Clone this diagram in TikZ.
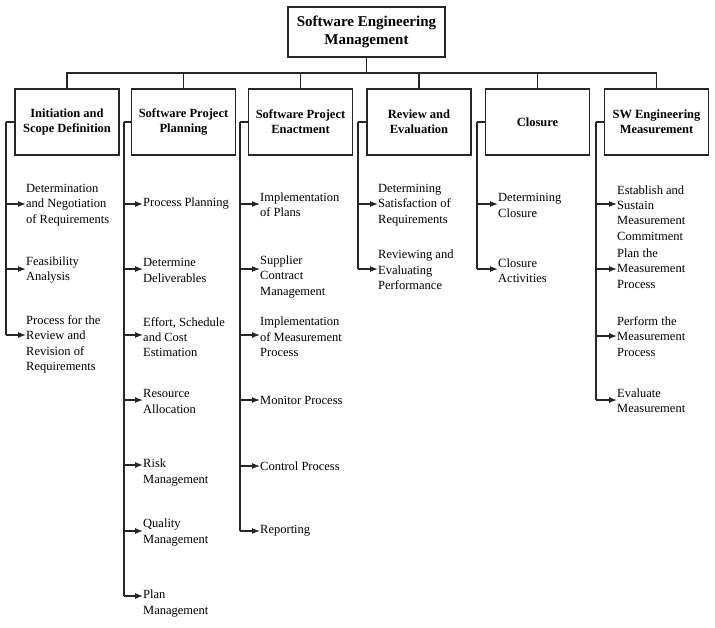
\documentclass[tikz,border=0pt]{standalone}
\usepackage{fontspec}
\setmainfont{Liberation Serif}
\usetikzlibrary{arrows.meta}
\begin{document}
\begin{tikzpicture}[x=1pt,y=-1pt,
  conn/.style={line width=1.1pt, draw=black!85},
  arr/.style={conn, -{Latex[length=8pt,width=6pt]}},
  topbox/.style={draw=black!85, line width=1.2pt, minimum width=157pt, minimum height=50pt, align=center, font=\fontsize{15}{18}\selectfont\bfseries, inner sep=0pt},
  catbox/.style={draw=black!85, line width=1.2pt, minimum width=104pt, minimum height=66pt, align=center, font=\fontsize{12.5}{15}\selectfont\bfseries, inner sep=0pt},
  item/.style={anchor=west, align=left, inner sep=0pt, font=\fontsize{12.5}{15.3}\selectfont}
]
\useasboundingbox (0,0) rectangle (715,627);

% top
\node[topbox] (top) at (366.5,32) {Software Engineering\\Management};
\coordinate (bus) at (366.5,73);

% categories
\node[catbox] (c1) at (67,122) {Initiation and\\Scope Definition};
\node[catbox] (c2) at (183.5,122) {Software Project\\Planning};
\node[catbox] (c3) at (300.5,122) {Software Project\\Enactment};
\node[catbox] (c4) at (419,122) {Review and\\Evaluation};
\node[catbox] (c5) at (537.5,122) {Closure};
\node[catbox] (c6) at (656.5,122) {SW Engineering\\Measurement};

\draw[conn] (top.south) -- (bus);
\draw[conn] (c1.north) |- (bus) -| (c6.north);
\foreach \c in {c2,c3,c4,c5} \draw[conn] (\c.north) -- (\c.north |- bus);

% spines
\coordinate (s1) at (6,122);
\coordinate (s2) at (124,122);
\coordinate (s3) at (240,122);
\coordinate (s4) at (358,122);
\coordinate (s5) at (477,122);
\coordinate (s6) at (596,122);
\foreach \i in {1,...,6} \draw[conn] (c\i.west) -- (s\i);

% column 1
\node[item] (i11) at (26,205) {Determination\\and Negotiation\\of Requirements};
\node[item] (i12) at (26,270) {Feasibility\\Analysis};
\node[item] (i13) at (26,344.5) {Process for the\\Review and\\Revision of\\Requirements};
\coordinate (a11) at (6,204);
\coordinate (a12) at (6,269);
\coordinate (a13) at (6,335);
\draw[conn] (s1) -- (a13);
\draw[arr] (a11) -- (a11 -| i11.west);
\draw[arr] (a12) -- (a12 -| i12.west);
\draw[arr] (a13) -- (a13 -| i13.west);

% column 2
\node[item] (i21) at (143,204) {Process Planning};
\node[item] (i22) at (143,270.5) {Determine\\Deliverables};
\node[item] (i23) at (143,337) {Effort, Schedule\\and Cost\\Estimation};
\node[item] (i24) at (143,401.5) {Resource\\Allocation};
\node[item] (i25) at (143,472.5) {Risk\\Management};
\node[item] (i26) at (143,532.5) {Quality\\Management};
\node[item] (i27) at (143,603.5) {Plan\\Management};
\coordinate (a21) at (124,204);
\coordinate (a22) at (124,269);
\coordinate (a23) at (124,335);
\coordinate (a24) at (124,400);
\coordinate (a25) at (124,465);
\coordinate (a26) at (124,531);
\coordinate (a27) at (124,596);
\draw[conn] (s2) -- (a27);
\foreach \k in {1,...,7} \draw[arr] (a2\k) -- (a2\k -| i2\k.west);

% column 3
\node[item] (i31) at (260,204.5) {Implementation\\of Plans};
\node[item] (i32) at (260,277) {Supplier\\Contract\\Management};
\node[item] (i33) at (260,337) {Implementation\\of Measurement\\Process};
\node[item] (i34) at (260,400) {Monitor Process};
\node[item] (i35) at (260,466) {Control Process};
\node[item] (i36) at (260,531) {Reporting};
\coordinate (a31) at (240,204);
\coordinate (a32) at (240,269);
\coordinate (a33) at (240,335);
\coordinate (a34) at (240,400);
\coordinate (a35) at (240,466);
\coordinate (a36) at (240,531);
\draw[conn] (s3) -- (a36);
\foreach \k in {1,...,6} \draw[arr] (a3\k) -- (a3\k -| i3\k.west);

% column 4
\node[item] (i41) at (378,205) {Determining\\Satisfaction of\\Requirements};
\node[item] (i42) at (378,270) {Reviewing and\\Evaluating\\Performance};
\coordinate (a41) at (358,204);
\coordinate (a42) at (358,269);
\draw[conn] (s4) -- (a42);
\foreach \k in {1,2} \draw[arr] (a4\k) -- (a4\k -| i4\k.west);

% column 5
\node[item] (i51) at (498,205.5) {Determining\\Closure};
\node[item] (i52) at (498,270.5) {Closure\\Activities};
\coordinate (a51) at (477,204);
\coordinate (a52) at (477,269);
\draw[conn] (s5) -- (a52);
\foreach \k in {1,2} \draw[arr] (a5\k) -- (a5\k -| i5\k.west);

% column 6
\node[item] (i61) at (617,213) {Establish and\\Sustain\\Measurement\\Commitment};
\node[item] (i62) at (617,268.5) {Plan the\\Measurement\\Process};
\node[item] (i63) at (617,336.5) {Perform the\\Measurement\\Process};
\node[item] (i64) at (617,401) {Evaluate\\Measurement};
\coordinate (a61) at (596,204);
\coordinate (a62) at (596,269);
\coordinate (a63) at (596,336);
\coordinate (a64) at (596,400);
\draw[conn] (s6) -- (a64);
\foreach \k in {1,...,4} \draw[arr] (a6\k) -- (a6\k -| i6\k.west);
\end{tikzpicture}
\end{document}
